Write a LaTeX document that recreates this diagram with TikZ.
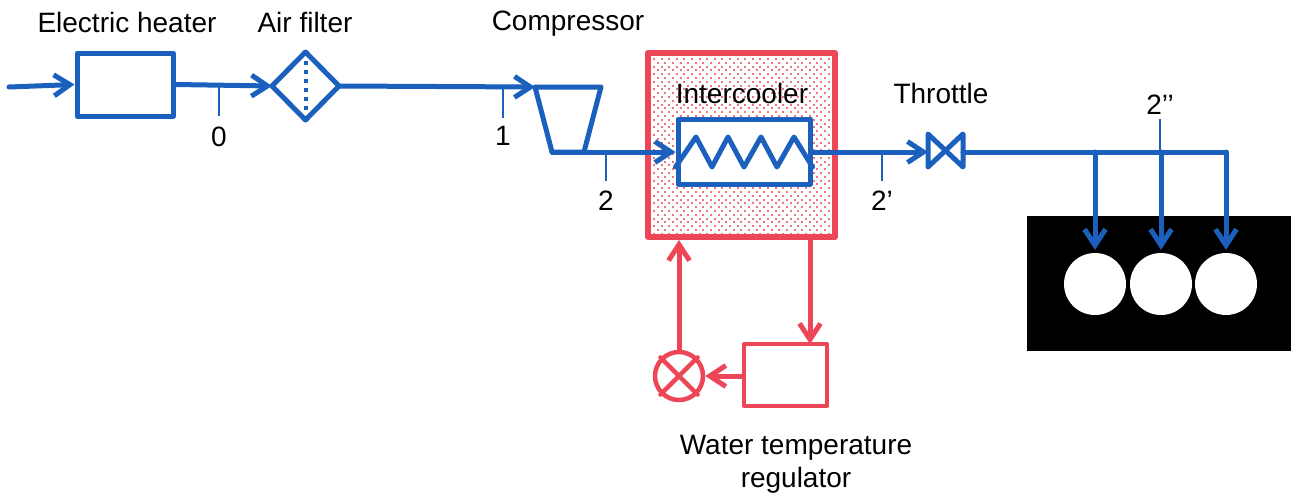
\documentclass[tikz,border=0pt]{standalone}
\usepackage{fontspec}
\setmainfont{Liberation Sans}
\usetikzlibrary{arrows.meta,calc}
\definecolor{pipeblue}{HTML}{1B60BC}
\definecolor{coolred}{HTML}{EC4657}
\tikzset{
  lab/.style={inner sep=0pt,font=\fontsize{28}{33}\selectfont,text=black,align=center},
  pipe/.style={draw=pipeblue,line width=5pt,line cap=round,line join=round},
  flow/.style={pipe,-{Straight Barb[length=16pt,width=21pt,line width=5pt]}},
  wpipe/.style={draw=coolred,line width=5pt,line cap=round,line join=round},
  wflow/.style={wpipe,-{Straight Barb[length=16pt,width=21pt,line width=5pt]}},
  tick/.style={draw=pipeblue,line width=2.5pt},
  boxb/.style={pipe,fill=white,rectangle,inner sep=0pt},
  boxr/.style={wpipe,fill=white,rectangle,inner sep=0pt},
  hole/.style={circle,fill=white,inner sep=0pt,minimum size=62pt},
}
\begin{document}
\begin{tikzpicture}[x=1pt,y=-1pt]
\path[use as bounding box,fill=white] (0,0) rectangle (1291,493);
% intercooler housing
\node[boxr,line width=6pt,minimum width=187pt,minimum height=184pt] (ic) at (741.5,145) {};
\foreach \i in {0,...,46}{\foreach \j in {0,...,46}{
  \pgfmathsetmacro{\px}{654+3.8*\i}
  \pgfmathsetmacro{\py}{59+3.8*\j}
  \pgfmathparse{int(mod(\i+\j,2))}
  \ifnum\pgfmathresult=0
    \fill[coolred,opacity=0.75] (\px-1,\py-1) rectangle (\px+1,\py+1);
  \fi
}}
% equipment
\node[boxb,minimum width=96pt,minimum height=63pt] (heater) at (125,84.5) {};
\coordinate (filter) at (305.5,86);
\coordinate (fl) at (272,86); \coordinate (fr) at (339,86);
\coordinate (ft) at (305.5,52); \coordinate (fb) at (305.5,120);
\draw[pipe] (fl) -- (ft) -- (fr) -- (fb) -- cycle;
\draw[draw=pipeblue,line width=4pt,dash pattern=on 4pt off 5pt] (ft) ++(0,9) -- ($(fb)+(0,-8)$);
\coordinate (ct1) at (535,87); \coordinate (ct2) at (601,87);
\coordinate (cb2) at (584,152); \coordinate (cb1) at (552,152);
\draw[pipe] (ct1) -- (ct2) -- (cb2) -- (cb1) -- cycle;
\node[boxb,minimum width=132pt,minimum height=65pt] (hx) at (744,151.5) {};
\draw[pipe] (hx.west |- 0,167) -- (696,137) -- (712,167) -- (728,137) -- (744,167) -- (761,137) -- (777,167) -- (794,137) -- (hx.east |- 0,167);
\coordinate (tll) at (928,152); \coordinate (trr) at (963,152);
\draw[pipe] (928,134) -- (928,167) -- (963,134) -- (963,167) -- cycle;
\node[fill=black,inner sep=0pt,minimum width=265pt,minimum height=135pt] (engine) at (1159.5,283.5) {};
\node[hole] (c1) at (1095,284) {};
\node[hole] (c2) at (1161,284) {};
\node[hole] (c3) at (1226,284) {};
\node[boxr,line width=4pt,minimum width=83pt,minimum height=62pt] (reg) at (785.5,375) {};
\node[wpipe,line width=4.5pt,circle,fill=white,inner sep=0pt,minimum size=48pt] (mix) at (679,376) {};
\draw[wpipe,line width=4.5pt] (mix.north west) -- (mix.south east);
\draw[wpipe,line width=4.5pt] (mix.north east) -- (mix.south west);
% air path
\coordinate (in) at (9,87);
\draw[flow] (in) -- (heater.west);
\draw[flow] (heater.east) -- (fl);
\draw[flow] (fr) -- (ct1);
\draw[flow] (cb1) -- (hx.west |- cb1);
\draw[flow] (hx.east |- tll) -- (tll);
\coordinate (jr) at (1226,152);
\draw[pipe] (trr) -- (jr);
\coordinate (d1) at (1095,152); \coordinate (d2) at (1161,152);
\draw[flow] (d1) -- ($(c1.north)+(0,-3)$);
\draw[flow] (d2) -- ($(c2.north)+(0,-3)$);
\draw[flow] (jr) -- ($(c3.north)+(0,-3)$);
% water path
\coordinate (icout) at (810,237); \coordinate (regin) at (810,344);
\draw[wflow] (icout) -- (regin);
\draw[wflow] (reg.west |- mix) -- (mix.east);
\draw[wflow] (mix.north) -- (mix.north |- ic.south);
% state points
\coordinate (s0) at (219,87); \coordinate (s0e) at (219,116);
\coordinate (s1) at (503,87); \coordinate (s1e) at (503,118);
\coordinate (s2) at (606,152); \coordinate (s2e) at (606,181);
\coordinate (s3) at (882,152); \coordinate (s3e) at (882,181);
\coordinate (s4) at (1160,152); \coordinate (s4e) at (1160,119);
\draw[tick] (s0) -- (s0e); \draw[tick] (s1) -- (s1e); \draw[tick] (s2) -- (s2e);
\draw[tick] (s3) -- (s3e); \draw[tick] (s4) -- (s4e);
% labels
\node[lab] (t1) at (127,22) {Electric heater};
\node[lab] (t2) at (305,22) {Air filter};
\node[lab] (t3) at (568,24) {Compressor};
\node[lab] (t4) at (742,93) {Intercooler};
\node[lab] (t5) at (941,93) {Throttle};
\node[lab] (t6) at (796,464) {Water temperature\\regulator};
\node[lab] (n0) at (219,137) {0};
\node[lab] (n1) at (503,136) {1};
\node[lab] (n2) at (606,201) {2};
\node[lab] (n3) at (882,201) {2’};
\node[lab] (n4) at (1160,105) {2’’};
\end{tikzpicture}
\end{document}
